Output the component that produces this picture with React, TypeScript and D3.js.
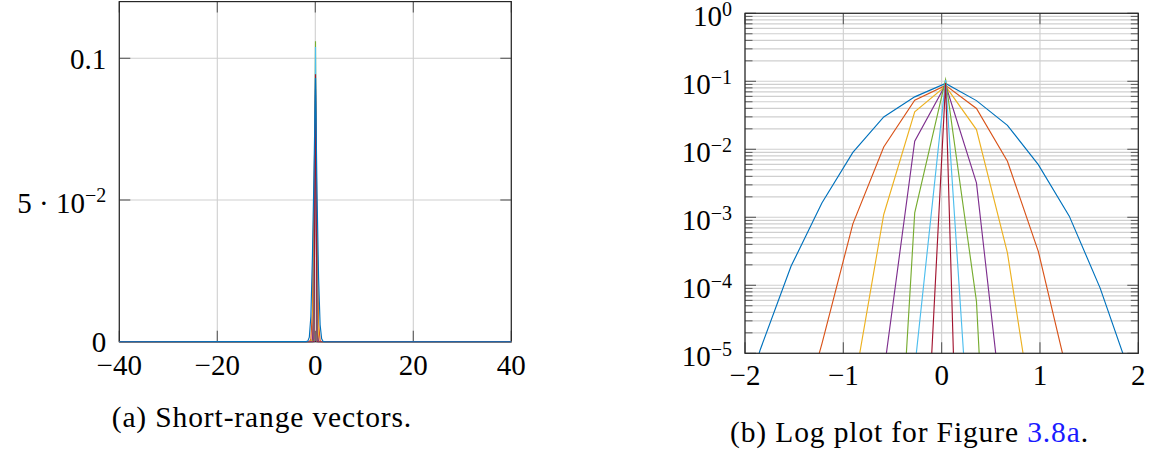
import React from "react";
import * as d3 from "d3";

// Shared sample positions (displacement) for every distribution
const gridX = [-2.16, -1.846, -1.532, -1.218, -0.903, -0.589, -0.274, 0.04, 0.354, 0.669, 0.983, 1.298, 1.612, 1.926, 2.24];
// Outer limits of the sampled range; the distributions are zero there
const rangeEnds = [-40, 40];

// Probability per sample; null where a series has no sample
const blueValues = [3.2e-7, 1.12e-5, 1.9e-4, 1.62e-3, 9.0e-3, 2.99e-2, 5.9e-2, 9.3e-2, 5.2e-2, 2.25e-2, 5.96e-3, 1.04e-3, 9.1e-5, 4.5e-6, 1.6e-7];
const orangeValues = [null, null, 3.2e-7, 1.38e-5, 8.0e-4, 1.08e-2, 5.26e-2, 8.7e-2, 3.98e-2, 6.67e-3, 3.16e-4, 3.8e-6, 3.2e-8, null, null];
const yellowValues = [null, null, null, null, 2.6e-6, 1.1e-3, 3.55e-2, 8.5e-2, 1.95e-2, 3.0e-4, 3.6e-7, null, null, null, null];
const purpleValues = [null, null, null, null, null, 5.1e-6, 1.32e-2, 8.9e-2, 3.2e-3, 3.0e-7, null, null, null, null, null];
const greenValues = [null, null, null, null, null, 2.5e-11, 1.16e-3, 0.106, 5.8e-5, 1.0e-13, null, null, null, null, null];
const cyanValues = [null, null, null, null, null, null, 6.0e-6, 0.104, 1.3e-8, null, null, null, null, null, null];
const redValues = [null, null, null, null, null, null, 1.26e-10, 0.0944, 2.0e-17, null, null, null, null, null, null];

const seriesNames = ["blue", "orange", "yellow", "purple", "green", "cyan", "red"];
const seriesColors = ["#0072BD", "#D95319", "#EDB120", "#7E2F8E", "#77AC30", "#4DBEEE", "#A2142F"];
const seriesValues = [blueValues, orangeValues, yellowValues, purpleValues, greenValues, cyanValues, redValues];
// Stacking order in the linear panel (widest curve on top)
const linearDrawOrder = ["orange", "yellow", "purple", "green", "cyan", "red", "blue"];

// Axis ticks
const linXTicks = [-40, -20, 0, 20, 40];
const linXTickLabels = ["\u221240", "\u221220", "0", "20", "40"];
const linYTicks = [0, 0.05, 0.1];
const linYTickBase = ["0", "5 \u00b7 10", "0.1"];
const linYTickSup = ["", "\u22122", ""];

const logXTicks = [-2, -1, 0, 1, 2];
const logXTickLabels = ["\u22122", "\u22121", "0", "1", "2"];
const logYTicks = [1e-5, 1e-4, 1e-3, 1e-2, 1e-1, 1];
const logYTickBase = ["10", "10", "10", "10", "10", "10"];
const logYTickSup = ["\u22125", "\u22124", "\u22123", "\u22122", "\u22121", "0"];
const minorMantissas = [2, 3, 4, 5, 6, 7, 8, 9];
const minorDecades = [1e-5, 1e-4, 1e-3, 1e-2, 1e-1];

const captionA = "(a) Short-range vectors.";
const captionBText = "(b) Log plot for Figure ";
const captionBRef = "3.8a";

const FONT = "'Liberation Serif', 'Times New Roman', serif";
const GRID = "#cfcfcf";
const TICK = "#5a5a5a";
const BOX = "#262626";

type Pt = { x: number; y: number };

function seriesPoints(values: (number | null)[], withEnds: boolean): Pt[] {
  const pts: Pt[] = [];
  gridX.forEach((x, i) => {
    const v = values[i];
    if (v !== null && v !== undefined) pts.push({ x, y: v });
  });
  if (withEnds) {
    pts.unshift({ x: rangeEnds[0], y: 0 });
    pts.push({ x: rangeEnds[1], y: 0 });
  }
  return pts;
}

function TickLabelY({ x, y, base, sup }: { x: number; y: number; base: string; sup: string }) {
  return (
    <text x={x} y={sup ? y + 13 : y + 10.5} textAnchor="end" fontFamily={FONT} fontSize={29} fill="#000">
      {base}
      {sup ? (
        <tspan dy={-10.5} fontSize={20}>
          {sup}
        </tspan>
      ) : null}
    </text>
  );
}

function LinearPanel() {
  const x = d3.scaleLinear().domain([-40, 40]).range([119.3, 511.3]);
  const y = d3.scaleLinear().domain([0, 0.12]).range([341.7, 1.6]);
  const [x0, x1] = x.range();
  const [y0, y1] = y.range();
  const line = d3
    .line<Pt>()
    .x((d) => x(d.x))
    .y((d) => y(d.y));
  const TL = 11;
  return (
    <g>
      {linXTicks.map((t) => (
        <line key={"gx" + t} x1={x(t)} x2={x(t)} y1={y0} y2={y1} stroke={GRID} strokeWidth={1.1} />
      ))}
      {linYTicks.map((t) => (
        <line key={"gy" + t} x1={x0} x2={x1} y1={y(t)} y2={y(t)} stroke={GRID} strokeWidth={1.1} />
      ))}
      {linXTicks.map((t) => (
        <g key={"tx" + t}>
          <line x1={x(t)} x2={x(t)} y1={y0} y2={y0 - TL} stroke={TICK} strokeWidth={1.1} />
          <line x1={x(t)} x2={x(t)} y1={y1} y2={y1 + TL} stroke={TICK} strokeWidth={1.1} />
        </g>
      ))}
      {linYTicks.map((t) => (
        <g key={"ty" + t}>
          <line x1={x0} x2={x0 + TL} y1={y(t)} y2={y(t)} stroke={TICK} strokeWidth={1.1} />
          <line x1={x1 - TL} x2={x1} y1={y(t)} y2={y(t)} stroke={TICK} strokeWidth={1.1} />
        </g>
      ))}
      <rect x={x0} y={y1} width={x1 - x0} height={y0 - y1} fill="none" stroke={BOX} strokeWidth={1.2} />
      {linearDrawOrder.map((name) => {
        const i = seriesNames.indexOf(name);
        return (
          <path
            key={name}
            d={line(seriesPoints(seriesValues[i], true)) || ""}
            fill="none"
            stroke={seriesColors[i]}
            strokeWidth={1.15}
            strokeLinejoin="miter"
            strokeMiterlimit={10}
          />
        );
      })}
      {linXTicks.map((t, i) => (
        <text key={"lx" + t} x={x(t)} y={y0 + 33} textAnchor="middle" fontFamily={FONT} fontSize={29} fill="#000">
          {linXTickLabels[i]}
        </text>
      ))}
      {linYTicks.map((t, i) => (
        <TickLabelY key={"ly" + t} x={x0 - 13} y={y(t)} base={linYTickBase[i]} sup={linYTickSup[i]} />
      ))}
    </g>
  );
}

function LogPanel() {
  const x = d3.scaleLinear().domain([-2, 2]).range([745, 1138.3]);
  const y = d3.scaleLog().domain([1e-5, 1]).range([353.3, 13.3]);
  const [x0, x1] = x.range();
  const [y0, y1] = y.range();
  const line = d3
    .line<Pt>()
    .defined((d) => d.y > 0)
    .x((d) => x(d.x))
    .y((d) => y(d.y));
  const minorTicks: number[] = [];
  minorDecades.forEach((dec) => minorMantissas.forEach((m) => minorTicks.push(m * dec)));
  const TL = 11;
  const TLm = 7.5;
  return (
    <g>
      <defs>
        <clipPath id="logClip">
          <rect x={x0} y={y1} width={x1 - x0} height={y0 - y1} />
        </clipPath>
      </defs>
      {minorTicks.map((t, i) => (
        <line key={"gm" + i} x1={x0} x2={x1} y1={y(t)} y2={y(t)} stroke={GRID} strokeWidth={1.1} />
      ))}
      {logYTicks.map((t, i) => (
        <line key={"gy" + i} x1={x0} x2={x1} y1={y(t)} y2={y(t)} stroke={GRID} strokeWidth={1.1} />
      ))}
      {logXTicks.map((t) => (
        <line key={"gx" + t} x1={x(t)} x2={x(t)} y1={y0} y2={y1} stroke={GRID} strokeWidth={1.1} />
      ))}
      {minorTicks.map((t, i) => (
        <g key={"tm" + i}>
          <line x1={x0} x2={x0 + TLm} y1={y(t)} y2={y(t)} stroke={TICK} strokeWidth={1} />
          <line x1={x1 - TLm} x2={x1} y1={y(t)} y2={y(t)} stroke={TICK} strokeWidth={1} />
        </g>
      ))}
      {logYTicks.map((t, i) => (
        <g key={"ty" + i}>
          <line x1={x0} x2={x0 + TL} y1={y(t)} y2={y(t)} stroke={TICK} strokeWidth={1.1} />
          <line x1={x1 - TL} x2={x1} y1={y(t)} y2={y(t)} stroke={TICK} strokeWidth={1.1} />
        </g>
      ))}
      {logXTicks.map((t) => (
        <g key={"tx" + t}>
          <line x1={x(t)} x2={x(t)} y1={y0} y2={y0 - TL} stroke={TICK} strokeWidth={1.1} />
          <line x1={x(t)} x2={x(t)} y1={y1} y2={y1 + TL} stroke={TICK} strokeWidth={1.1} />
        </g>
      ))}
      <g clipPath="url(#logClip)">
        {seriesNames.map((name, i) => (
          <path
            key={name}
            d={line(seriesPoints(seriesValues[i], true)) || ""}
            fill="none"
            stroke={seriesColors[i]}
            strokeWidth={1.15}
            strokeLinejoin="miter"
            strokeMiterlimit={10}
          />
        ))}
      </g>
      <rect x={x0} y={y1} width={x1 - x0} height={y0 - y1} fill="none" stroke={BOX} strokeWidth={1.2} />
      {logXTicks.map((t, i) => (
        <text key={"lx" + t} x={x(t)} y={y0 + 32} textAnchor="middle" fontFamily={FONT} fontSize={29} fill="#000">
          {logXTickLabels[i]}
        </text>
      ))}
      {logYTicks.map((t, i) => (
        <TickLabelY key={"ly" + i} x={x0 - 13} y={y(t)} base={logYTickBase[i]} sup={logYTickSup[i]} />
      ))}
    </g>
  );
}

export default function App() {
  return (
    <svg
      width={1153}
      height={452}
      viewBox="0 0 1153 452"
      style={{ position: "absolute", left: 0, top: 0, background: "#fff" }}
    >
      <rect x={0} y={0} width={1153} height={452} fill="#fff" />
      <LinearPanel />
      <LogPanel />
      <text x={111.7} y={426.7} fontFamily={FONT} fontSize={29.5} fill="#000" textLength={299.5} lengthAdjust="spacing">
        {captionA}
      </text>
      <text x={730} y={441.5} fontFamily={FONT} fontSize={29.5} fill="#000" textLength={358} lengthAdjust="spacing">
        {captionBText}
        <tspan fill="#1a1aff">{captionBRef}</tspan>.
      </text>
    </svg>
  );
}
